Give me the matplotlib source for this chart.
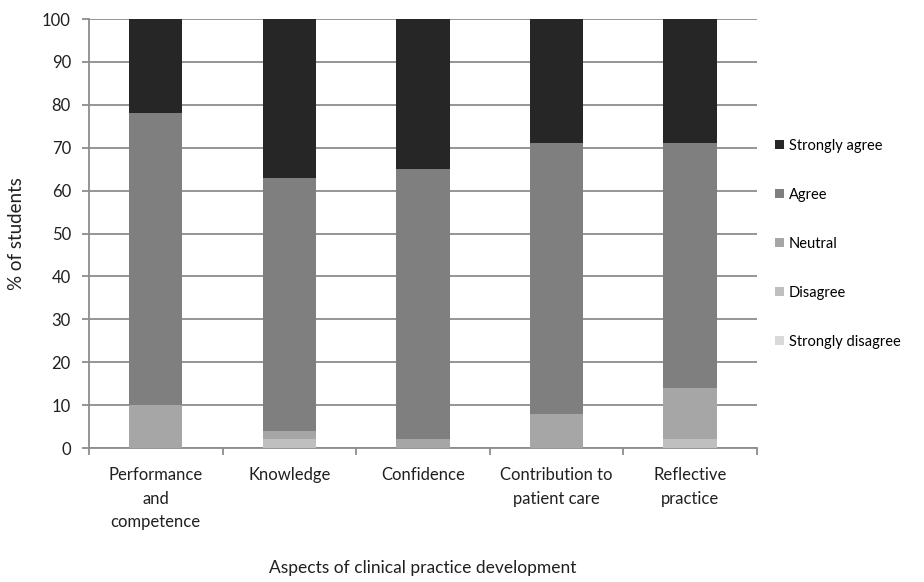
import numpy as np
import matplotlib
matplotlib.use("Agg")
import matplotlib.pyplot as plt
from matplotlib.patches import Patch

plt.rcParams["font.family"] = ["Lato", "DejaVu Sans"]

categories = ["Performance\nand\ncompetence", "Knowledge", "Confidence",
              "Contribution to\npatient care", "Reflective\npractice"]

# % of students per response level, bottom to top
strongly_disagree = [0, 0, 0, 0, 0]
disagree = [0, 2, 0, 0, 2]
neutral = [10, 2, 2, 8, 12]
agree = [68, 59, 63, 63, 57]
strongly_agree = [22, 37, 35, 29, 29]

series = [
    ("Strongly disagree", strongly_disagree, "#d9d9d9"),
    ("Disagree", disagree, "#bfbfbf"),
    ("Neutral", neutral, "#a6a6a6"),
    ("Agree", agree, "#7f7f7f"),
    ("Strongly agree", strongly_agree, "#262626"),
]

fig = plt.figure(figsize=(9.24, 5.82), dpi=100)
ax = fig.add_axes([0.0963, 0.2302, 0.7227, 0.7371])

x = np.arange(len(categories))
bottom = np.zeros(len(categories))
for label, vals, color in series:
    vals = np.array(vals, dtype=float)
    ax.bar(x, vals, width=0.4, bottom=bottom, color=color, zorder=3)
    bottom += vals

ax.set_xlim(-0.5, len(categories) - 0.5)
ax.set_ylim(0, 100)
ax.set_yticks(np.arange(0, 101, 10))
ax.yaxis.grid(True, color="#8c8c8c", linewidth=1.3, zorder=0)
ax.set_axisbelow(True)

ax.set_xticks(x)
ax.set_xticklabels(categories, fontsize=12, color="#202020", linespacing=1.55)
ax.set_xticks(np.arange(-0.5, len(categories)), minor=True)
ax.tick_params(axis="x", which="major", length=0, pad=14)
ax.tick_params(axis="x", which="minor", length=5, color="#8c8c8c", width=1.3)
ax.tick_params(axis="y", length=5, color="#8c8c8c", width=1.3, labelsize=12,
               labelcolor="#202020", pad=8)

for side in ["top", "right"]:
    ax.spines[side].set_visible(False)
for side in ["left", "bottom"]:
    ax.spines[side].set_color("#8c8c8c")
    ax.spines[side].set_linewidth(1.3)

ax.set_ylabel("% of students", fontsize=13.5, color="#202020", labelpad=12)
ax.set_xlabel("Aspects of clinical practice development", fontsize=12.5,
              color="#202020", labelpad=22)

handles = [Patch(facecolor=c, label=l) for l, _, c in reversed(series)]
fig.legend(handles=handles, loc="upper left", bbox_to_anchor=(0.826, 0.782),
           frameon=False, fontsize=10.5, handlelength=0.6, handleheight=0.6,
           handletextpad=0.35, labelspacing=2.4, borderpad=0.3)

fig.savefig("out.png", dpi=100)
